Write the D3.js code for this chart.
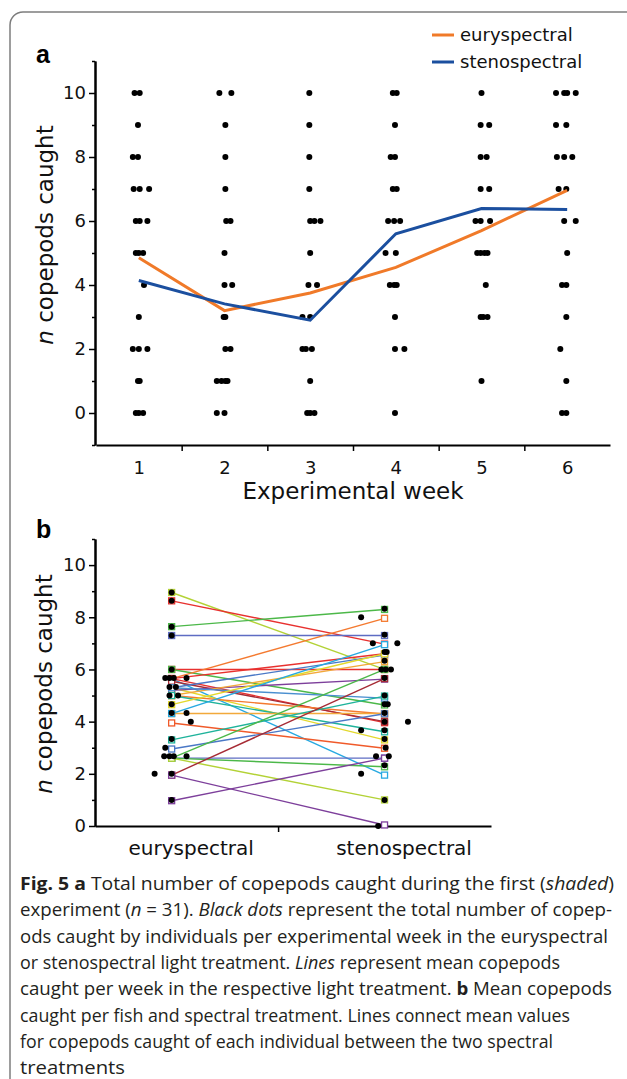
<!DOCTYPE html>
<html>
<head>
<meta charset="utf-8">
<script src="https://cdn.jsdelivr.net/npm/d3@7"></script>
<style>
  body { margin: 0; background: #fff; }
  svg { display: block; }
</style>
</head>
<body>
<script>
// panel a : weeks, means and single catches
var weeks = [1, 2, 3, 4, 5, 6];
var weekBounds = [1.5, 2.5, 3.5, 4.5, 5.5];
var yMajor = [0, 2, 4, 6, 8, 10];
var yMinorA = [-1, 1, 3, 5, 7, 9, 11];
var yMinorB = [1, 3, 5, 7, 9, 11];
var seriesNames = ["euryspectral", "stenospectral"];
var euryMean = [4.85, 3.2, 3.75, 4.55, 5.7, 6.96];
var stenoMean = [4.14, 3.41, 2.9, 5.6, 6.39, 6.36];

// [copepods, horizontal jitter in weeks]
var dotsW1 = [[10,-0.05],[10,0.01],[9,-0.01],[8,-0.07],[8,-0.01],[7,-0.06],[7,0.01],[7,0.12],
  [6,-0.035],[6,0.01],[6,0.1],[5,-0.035],[5,0],[5,0.05],[4,0.06],[3,0],[2,-0.07],[2,0],[2,0.1],
  [1,-0.01],[1,0.01],[0,-0.035],[0,0],[0,0.05]];
var dotsW2 = [[10,-0.06],[10,0.08],[9,0.01],[8,0.01],[7,0.01],[6,0.02],[6,0.07],[5,0],[4,0],[4,0.09],
  [3,-0.01],[3,0.01],[2,0.01],[2,0.07],[1,-0.09],[1,-0.035],[1,0.01],[1,0.035],[0,-0.09],[0,0]];
var dotsW3 = [[10,-0.01],[9,-0.01],[8,-0.01],[7,-0.01],[6,0],[6,0.05],[6,0.12],[5,0],[4,-0.02],[4,0.08],
  [3,-0.09],[3,0],[2,-0.09],[2,-0.05],[2,0.02],[1,0],[0,-0.035],[0,0],[0,0.05]];
var dotsW4 = [[10,-0.035],[10,0.01],[9,-0.01],[8,-0.06],[8,-0.01],[7,-0.035],[7,0.01],[6,-0.09],[6,-0.02],
  [6,0.05],[5,-0.12],[5,0],[4,-0.07],[4,-0.02],[4,0.01],[3,-0.01],[2,-0.01],[2,0.1],[0,-0.01]];
var dotsW5 = [[10,0],[9,-0.01],[9,0.09],[8,-0.01],[8,0.06],[7,-0.01],[7,0.09],[6,-0.07],[6,-0.01],[6,0.1],
  [5,-0.05],[5,-0.01],[5,0.035],[5,0.07],[4,0.05],[3,-0.01],[3,0.02],[3,0.07],[1,0]];
var dotsW6 = [[10,-0.13],[10,-0.035],[10,0],[10,0.1],[9,-0.13],[9,-0.01],[8,-0.12],[8,-0.035],[8,0.06],
  [7,-0.1],[7,-0.01],[6,-0.035],[6,0.1],[5,0],[4,-0.06],[4,-0.01],[3,-0.01],[2,-0.08],[1,-0.01],
  [0,-0.06],[0,-0.01]];
var weekDots = [dotsW1, dotsW2, dotsW3, dotsW4, dotsW5, dotsW6];

// panel b : mean per fish in each treatment
var fishEury  = [8.95, 8.63, 7.64, 7.30, 6.0, 6.0, 5.65, 5.65, 5.65, 5.65, 5.55, 5.3, 5.3, 5.2, 5.0, 5.0,
  5.0, 5.3, 4.65, 4.31, 4.31, 3.95, 3.30, 2.95, 2.6, 2.6, 2.6, 2.6, 1.95, 1.95, 0.97];
var fishSteno = [6.0, 6.97, 8.30, 7.30, 6.0, 4.64, 7.96, 6.6, 1.95, 3.96, 4.0, 6.55, 3.3, 5.63, 6.3, 4.29,
  3.61, 4.9, 6.6, 4.31, 6.95, 2.98, 4.98, 4.3, 6.0, 2.6, 2.27, 1.0, 5.65, 0.04, 2.6];
var fishColors = ["#b3d236", "#e8312f", "#4cb849", "#5e6cc3", "#e8312f", "#4cb849", "#f47a30", "#e8312f",
  "#27a9e1", "#e8312f", "#a62b35", "#4a78c6", "#e3d82c", "#7d3f9b", "#f2a93b", "#f47a30", "#1fb39b",
  "#4a8fd0", "#e3d82c", "#f2a93b", "#27a9e1", "#f05a2a", "#1fb39b", "#4a78c6", "#4cb849", "#5e6cc3",
  "#4cb849", "#b3d236", "#a62b35", "#7d3f9b", "#7d3f9b"];
// black dots: [mean, treatment position]
var euryDots = [[8.95,1],[8.63,1],[7.64,1],[7.3,1],[6,1],[5.67,0.97],[5.67,0.99],[5.67,1.01],[5.67,1.07],
  [5.33,0.99],[5.33,1.02],[5,0.99],[5,1.03],[4.67,1],[4.33,1],[4.33,1.07],[4,1.09],[3.33,1],[3,0.97],
  [2.67,0.965],[2.67,0.99],[2.67,1.01],[2.67,1.07],[2,0.92],[2,1],[1,1]];
var stenoDots = [[8.33,2],[8,1.89],[7.33,2],[7,1.945],[7,2.06],[6.67,2],[6.67,2.01],[6.33,2],[6,1.985],
  [6,2.005],[6,2.03],[5.67,2],[5,2],[4.67,2],[4.67,2.015],[4.33,2],[4,2],[4,2.11],[3.67,1.89],[3.67,2],
  [3.33,2],[3,2.005],[2.67,1.96],[2.67,2.02],[2.33,2],[2,1.89],[1,2],[0,1.97]];
var captionLines = [
  [["b","Fig. 5  a"],["n"," Total number of copepods caught during the first ("],["i","shaded"],["n",")"]],
  [["n","experiment ("],["i","n"],["n"," = 31). "],["i","Black dots"],["n"," represent the total number of copep-"]],
  [["n","ods caught by individuals per experimental week in the euryspectral"]],
  [["n","or stenospectral light treatment. "],["i","Lines"],["n"," represent mean copepods"]],
  [["n","caught per week in the respective light treatment. "],["b","b"],["n"," Mean copepods"]],
  [["n","caught per fish and spectral treatment. Lines connect mean values"]],
  [["n","for copepods caught of each individual between the two spectral"]],
  [["n","treatments"]]
];
var captionWidths = [594, 592, 588, 540, 592, 550, 533, 105];

var W = 627, H = 1079;
var svg = d3.select("body").append("svg")
    .attr("width", W)
    .attr("height", H);

svg.append("path")
    .attr("d", "M10," + (H + 5) + " V25 A13,13 0 0 1 23,12 H" + (W + 5))
    .attr("fill", "none")
    .attr("stroke", "#7d7d7d")
    .attr("stroke-width", 1.5);

var axisFont = "DejaVu Sans, sans-serif";

function styleAxis(g) {
  g.select(".domain").attr("stroke", "#000").attr("stroke-width", 2);
  g.selectAll(".tick line").attr("stroke", "#000").attr("stroke-width", 1.5);
  g.selectAll(".tick text").attr("fill", "#111").style("font-family", axisFont).style("font-size", "18px");
}

function yLabel(x, y) {
  var t = svg.append("text")
      .attr("transform", "translate(" + x + "," + y + ") rotate(-90)")
      .attr("text-anchor", "middle")
      .style("font-family", axisFont)
      .style("font-size", "23px")
      .attr("fill", "#111");
  t.append("tspan").style("font-style", "italic").text("n");
  t.append("tspan").text(" copepods caught");
}

// ---------- panel a
var xA = d3.scaleLinear().domain([0.5, 6.5]).range([96, 610]);
var yA = d3.scaleLinear().domain([-1, 11]).range([445, 61]);

svg.append("text").attr("x", 36).attr("y", 63)
    .style("font-family", "Liberation Sans, Arial, sans-serif")
    .style("font-weight", "bold").style("font-size", "25px").text("a");

svg.append("g").attr("transform", "translate(95,0)")
    .call(d3.axisLeft(yA).tickValues(yMinorA).tickSize(3).tickSizeOuter(0).tickFormat(""))
    .call(styleAxis);
svg.append("g").attr("transform", "translate(95,0)")
    .call(d3.axisLeft(yA).tickValues(yMajor).tickSize(6).tickPadding(3).tickSizeOuter(0))
    .call(styleAxis);
svg.append("g").attr("transform", "translate(0,445)")
    .call(d3.axisBottom(xA).tickValues(weekBounds).tickSize(6).tickSizeOuter(0).tickFormat(""))
    .call(styleAxis);
svg.append("g").attr("transform", "translate(0,445)")
    .call(d3.axisBottom(xA).tickValues(weeks).tickSize(0).tickPadding(16).tickSizeOuter(0)
      .tickFormat(d3.format("d")))
    .call(styleAxis)
    .call(function(g) { g.select(".domain").remove(); });

svg.append("text").attr("x", xA(3.5)).attr("y", 499)
    .attr("text-anchor", "middle")
    .style("font-family", axisFont).style("font-size", "23px").attr("fill", "#111")
    .text("Experimental week");
yLabel(53, 235);

weekDots.forEach(function(list, i) {
  svg.append("g").selectAll("circle")
      .data(list)
      .join("circle")
      .attr("cx", function(d) { return xA(weeks[i] + d[1]); })
      .attr("cy", function(d) { return yA(d[0]); })
      .attr("r", 3)
      .attr("fill", "#000");
});

var lineA = d3.line()
    .x(function(d, i) { return xA(weeks[i]); })
    .y(function(d) { return yA(d); });

svg.append("path").attr("d", lineA(euryMean))
    .attr("fill", "none").attr("stroke", "#f07a29").attr("stroke-width", 3);
svg.append("path").attr("d", lineA(stenoMean))
    .attr("fill", "none").attr("stroke", "#1b4f9f").attr("stroke-width", 3);

// legend
var legendColors = ["#f07a29", "#1b4f9f"];
seriesNames.forEach(function(name, i) {
  var ly = 35 + i * 27;
  svg.append("line").attr("x1", 432).attr("x2", 454).attr("y1", ly).attr("y2", ly)
      .attr("stroke", legendColors[i]).attr("stroke-width", 3);
  svg.append("text").attr("x", 460).attr("y", ly).attr("dy", "0.35em")
      .style("font-family", axisFont).style("font-size", "18px").attr("fill", "#111")
      .text(name);
});

// ---------- panel b
var xB = d3.scaleLinear().domain([0.64, 2.5]).range([95, 491]);
var yB = d3.scaleLinear().domain([0, 11]).range([826, 539]);

svg.append("text").attr("x", 36).attr("y", 538)
    .style("font-family", "Liberation Sans, Arial, sans-serif")
    .style("font-weight", "bold").style("font-size", "25px").text("b");

svg.append("g").attr("transform", "translate(95,0)")
    .call(d3.axisLeft(yB).tickValues(yMinorB).tickSize(3).tickSizeOuter(0).tickFormat(""))
    .call(styleAxis);
svg.append("g").attr("transform", "translate(95,0)")
    .call(d3.axisLeft(yB).tickValues(yMajor).tickSize(6).tickPadding(3).tickSizeOuter(0))
    .call(styleAxis);
svg.append("g").attr("transform", "translate(0,826)")
    .call(d3.axisBottom(xB).tickValues([1.5]).tickSize(6).tickSizeOuter(0).tickFormat(""))
    .call(styleAxis);
var catAxis = svg.append("g").attr("transform", "translate(0,826)")
    .call(d3.axisBottom(xB).tickValues([1, 2]).tickSize(0).tickPadding(15).tickSizeOuter(0)
      .tickFormat(function(d) { return seriesNames[d - 1]; }))
    .call(styleAxis)
    .call(function(g) { g.select(".domain").remove(); });
catAxis.selectAll(".tick text").attr("x", 19).style("font-size", "20px");
yLabel(52, 684);

var fishIdx = d3.range(fishEury.length);
svg.append("g").selectAll("line")
    .data(fishIdx)
    .join("line")
    .attr("x1", xB(1)).attr("x2", xB(2))
    .attr("y1", function(i) { return yB(fishEury[i]); })
    .attr("y2", function(i) { return yB(fishSteno[i]); })
    .attr("stroke", function(i) { return fishColors[i]; })
    .attr("stroke-width", 1.4);

[[1, fishEury], [2, fishSteno]].forEach(function(pair) {
  svg.append("g").selectAll("rect")
      .data(fishIdx)
      .join("rect")
      .attr("x", xB(pair[0]) - 3)
      .attr("y", function(i) { return yB(pair[1][i]) - 3; })
      .attr("width", 6).attr("height", 6)
      .attr("fill", "#fff")
      .attr("stroke", function(i) { return fishColors[i]; })
      .attr("stroke-width", 1.3);
});

svg.append("g").selectAll("circle")
    .data(euryDots.concat(stenoDots))
    .join("circle")
    .attr("cx", function(d) { return xB(d[1]); })
    .attr("cy", function(d) { return yB(d[0]); })
    .attr("r", 3)
    .attr("fill", "#000");

// ---------- caption
captionLines.forEach(function(parts, i) {
  var t = svg.append("text")
      .attr("x", 20).attr("y", 890 + i * 26.3)
      .attr("textLength", captionWidths[i])
      .attr("lengthAdjust", "spacingAndGlyphs")
      .style("font-family", "Open Sans, sans-serif")
      .style("font-size", "18px")
      .attr("fill", "#231f20");
  parts.forEach(function(p) {
    t.append("tspan")
        .style("font-weight", p[0] == "b" ? "bold" : "normal")
        .style("font-style", p[0] == "i" ? "italic" : "normal")
        .text(p[1]);
  });
});
</script>
</body>
</html>
